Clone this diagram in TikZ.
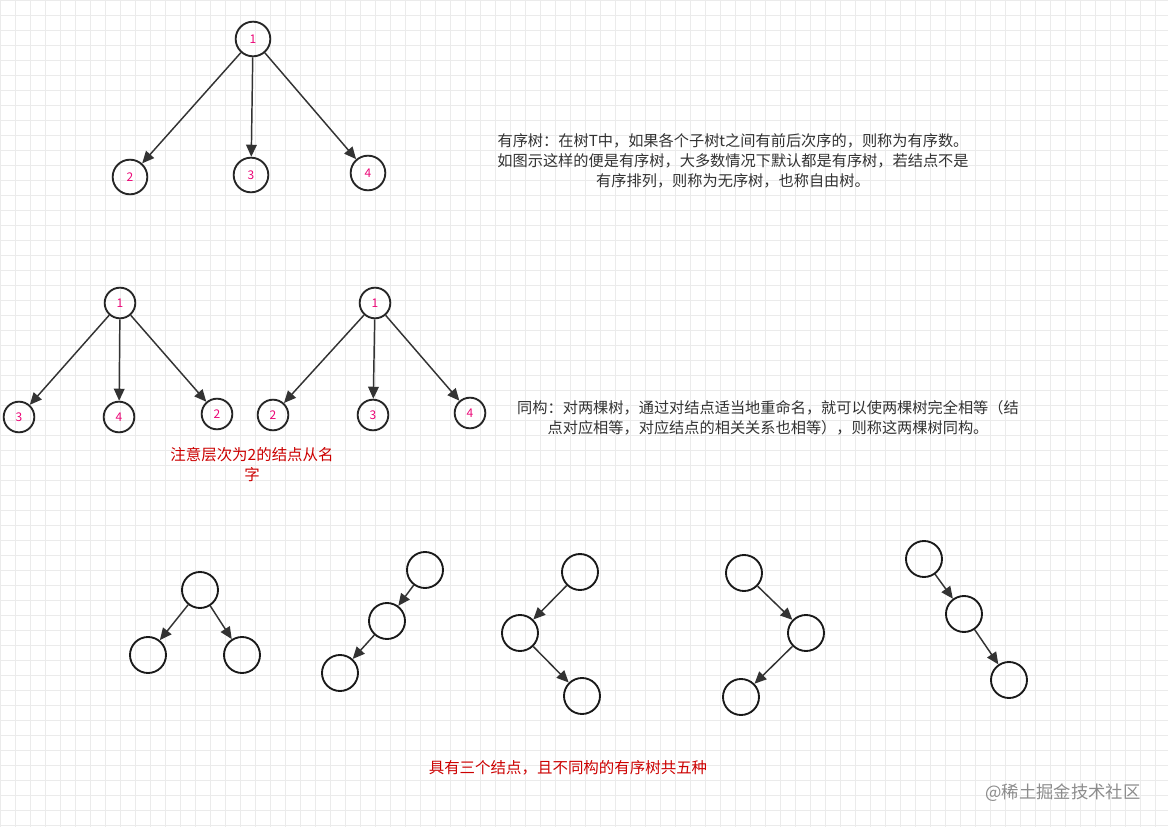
\documentclass[tikz,border=0pt]{standalone}
\usepackage{fontspec}
\newfontfamily\cjk{Noto Sans CJK SC}
\usetikzlibrary{arrows.meta}
\begin{document}
\begin{tikzpicture}[x=0.75pt,y=-0.75pt,
  nd/.style={circle,draw=black!85,line width=1.4pt,minimum size=23pt,inner sep=0pt,font=\cjk\fontsize{9}{9}\selectfont,text=magenta!80!red},
  sm/.style={circle,draw=black!85,line width=1.4pt,minimum size=26pt,inner sep=0pt,font=\cjk\fontsize{9}{9}\selectfont,text=magenta!80!red},
  bg/.style={circle,draw=black!90,line width=1.4pt,minimum size=27pt,inner sep=0pt},
  ed/.style={-{Triangle[length=9pt,width=8pt]},draw=black!80,line width=1.1pt},
  tx/.style={font=\cjk\fontsize{11.4}{15}\selectfont,text=black!80,align=center},
  rd/.style={font=\cjk\fontsize{11.6}{15}\selectfont,text=red!80!black,align=center}]
\useasboundingbox (0,0) rectangle (1168,827);
\fill[white] (0,0) rectangle (1168,827);
\foreach \i in {0,15,...,1168} \draw[black!8,line width=0.4pt] (\i,0) -- (\i,827);
\foreach \j in {0,15,...,827} \draw[black!8,line width=0.4pt] (0,\j) -- (1168,\j);
% top tree
\node[sm] (t1) at (253,39) {1};
\node[sm] (t2) at (130,177) {2};
\node[sm] (t3) at (251,175) {3};
\node[sm] (t4) at (368,173) {4};
\foreach \c in {t2,t3,t4} \draw[ed] (t1) -- (\c);
\node[tx] (d1) at (733,161) {有序树：在树T中，如果各个子树t之间有前后次序的，则称为有序数。\\如图示这样的便是有序树，大多数情况下默认都是有序树，若结点不是\\有序排列，则称为无序树，也称自由树。};
% middle trees
\node[nd] (a1) at (120,303) {1};
\node[nd] (a3) at (19,417) {3};
\node[nd] (a4) at (119,417) {4};
\node[nd] (a2) at (217,414) {2};
\foreach \c in {a3,a4,a2} \draw[ed] (a1) -- (\c);
\node[nd] (b1) at (375,303) {1};
\node[nd] (b2) at (273,415) {2};
\node[nd] (b3) at (373,415) {3};
\node[nd] (b4) at (470,413) {4};
\foreach \c in {b2,b3,b4} \draw[ed] (b1) -- (\c);
\node[rd] (n1) at (252,465) {注意层次为2的结点从名\\字};
\node[tx] (d2) at (768,418) {同构：对两棵树，通过对结点适当地重命名，就可以使两棵树完全相等（结\\点对应相等，对应结点的相关关系也相等），则称这两棵树同构。};
% bottom trees
\node[bg] (p1) at (200,590) {};
\node[bg] (p2) at (148,655) {};
\node[bg] (p3) at (242,655) {};
\draw[ed] (p1) -- (p2); \draw[ed] (p1) -- (p3);
\node[bg] (q1) at (425,570) {};
\node[bg] (q2) at (387,621) {};
\node[bg] (q3) at (340,673) {};
\draw[ed] (q1) -- (q2); \draw[ed] (q2) -- (q3);
\node[bg] (r1) at (580,572) {};
\node[bg] (r2) at (520,633) {};
\node[bg] (r3) at (582,696) {};
\draw[ed] (r1) -- (r2); \draw[ed] (r2) -- (r3);
\node[bg] (s1) at (744,573) {};
\node[bg] (s2) at (806,633) {};
\node[bg] (s3) at (741,697) {};
\draw[ed] (s1) -- (s2); \draw[ed] (s2) -- (s3);
\node[bg] (u1) at (924,559) {};
\node[bg] (u2) at (964,614) {};
\node[bg] (u3) at (1009,680) {};
\draw[ed] (u1) -- (u2); \draw[ed] (u2) -- (u3);
\node[rd] (n2) at (568,768) {具有三个结点，且不同构的有序树共五种};
\node[font=\cjk\fontsize{13}{13}\selectfont,text=black!45] (w) at (1063,793) {@稀土掘金技术社区};
\end{tikzpicture}
\end{document}
